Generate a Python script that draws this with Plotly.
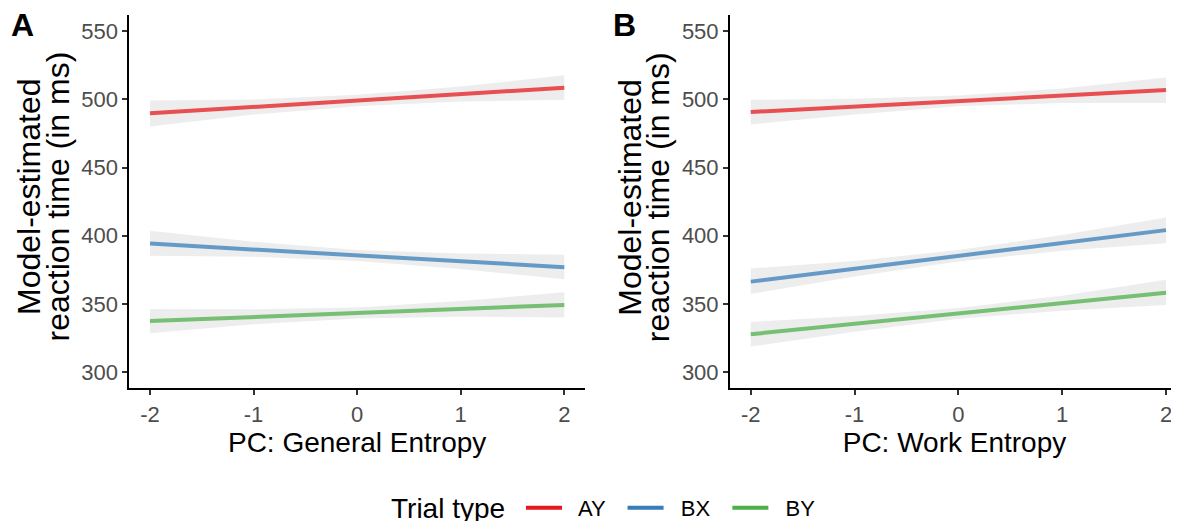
import plotly.graph_objects as go

# ---- data ----
x_vals = [-2, -1, 0, 1, 2]
trial_types = ["AY", "BX", "BY"]
colors = {"AY": "#E41A1C", "BX": "#377EB8", "BY": "#4DAF4A"}
line_colors = {"AY": "rgba(228,26,28,0.75)", "BX": "rgba(55,126,184,0.75)", "BY": "rgba(77,175,74,0.75)"}

# Panel A: PC General Entropy
A_AY_fit = [489.8, 494.5, 499.2, 503.9, 508.6]
A_AY_lo = [480.2, 489.0, 495.0, 498.5, 499.8]
A_AY_hi = [499.3, 500.0, 503.5, 509.5, 517.7]
A_BX_fit = [394.2, 389.9, 385.6, 381.2, 376.9]
A_BX_lo = [385.2, 384.5, 381.5, 375.5, 368.0]
A_BX_hi = [403.6, 395.5, 389.5, 387.0, 386.0]
A_BY_fit = [337.4, 340.4, 343.3, 346.3, 349.2]
A_BY_lo = [328.4, 335.0, 339.3, 340.5, 340.0]
A_BY_hi = [346.2, 346.0, 347.3, 352.0, 358.5]

# Panel B: PC Work Entropy
B_AY_fit = [490.8, 494.8, 498.9, 502.9, 506.9]
B_AY_lo = [481.7, 489.0, 495.0, 497.5, 497.4]
B_AY_hi = [499.8, 500.5, 503.0, 508.0, 516.2]
B_BX_fit = [366.3, 375.8, 385.2, 394.7, 404.1]
B_BX_lo = [357.3, 370.0, 381.0, 389.0, 394.5]
B_BX_hi = [375.9, 381.5, 389.5, 400.5, 413.3]
B_BY_fit = [327.7, 335.3, 343.0, 350.6, 358.2]
B_BY_lo = [318.6, 329.5, 339.0, 345.0, 349.2]
B_BY_hi = [336.7, 341.0, 347.0, 356.0, 367.6]

y_ticks = [300, 350, 400, 450, 500, 550]
x_ticks = [-2, -1, 0, 1, 2]

panels = {
    "A": {"AY": (A_AY_fit, A_AY_lo, A_AY_hi), "BX": (A_BX_fit, A_BX_lo, A_BX_hi), "BY": (A_BY_fit, A_BY_lo, A_BY_hi)},
    "B": {"AY": (B_AY_fit, B_AY_lo, B_AY_hi), "BX": (B_BX_fit, B_BX_lo, B_BX_hi), "BY": (B_BY_fit, B_BY_lo, B_BY_hi)},
}
axes = {"A": ("x", "y"), "B": ("x2", "y2")}

FONT = "Liberation Sans, Arial, sans-serif"
fig = go.Figure()

for p, data in panels.items():
    xa, ya = axes[p]
    for t in trial_types:
        fit, lo, hi = data[t]
        fig.add_trace(go.Scatter(
            x=x_vals + x_vals[::-1], y=lo + hi[::-1], fill="toself", mode="lines",
            fillcolor="rgba(215,215,215,0.45)", line=dict(width=0),
            hoverinfo="skip", showlegend=False, xaxis=xa, yaxis=ya))
    for t in trial_types:
        fit, lo, hi = data[t]
        fig.add_trace(go.Scatter(
            x=x_vals, y=fit, mode="lines", line=dict(color=line_colors[t], width=4),
            showlegend=False, xaxis=xa, yaxis=ya))

for t in trial_types:
    fig.add_trace(go.Scatter(x=[None], y=[None], mode="lines", name="  " + t + "  ",
                             line=dict(color=colors[t], width=4)))

# page is shown with the browser's default 8px body margin
OFF = 8
W, H = 1179 - OFF, 521 - OFF
def px_x(v):
    return (v - OFF) / W
def px_y(v):
    return 1 - (v - OFF) / H

ydom = [px_y(388.3), px_y(15)]
axis_common = dict(
    showgrid=False, zeroline=False, showline=True, linecolor="black", linewidth=2,
    ticks="outside", ticklen=5, tickwidth=1.5, tickcolor="#333333", automargin=False,
    tickfont=dict(family=FONT, size=22, color="#4d4d4d"),
)

annotations = [
    dict(text="<b>A</b>", x=px_x(22.5), y=px_y(25), xref="paper", yref="paper",
         showarrow=False, font=dict(size=32, color="black"), xanchor="center", yanchor="middle"),
    dict(text="<b>B</b>", x=px_x(624), y=px_y(25), xref="paper", yref="paper",
         showarrow=False, font=dict(size=32, color="black"), xanchor="center", yanchor="middle"),
    dict(text="Trial type", x=px_x(507), y=px_y(508), xref="paper", yref="paper",
         showarrow=False, font=dict(size=28, color="black"), xanchor="right", yanchor="middle"),
]
for off in (0, 600.7):
    for txt, cx in (("Model-estimated", 29.0), ("reaction time (in ms)", 57.5)):
        annotations.append(dict(text=txt, x=px_x(cx + off), y=px_y(197),
                                xref="paper", yref="paper", showarrow=False, textangle=-90,
                                font=dict(size=32, color="black"),
                                xanchor="center", yanchor="middle"))

fig.update_layout(
    width=W, height=H,
    margin=dict(l=0, r=0, t=0, b=0, autoexpand=False),
    plot_bgcolor="white", paper_bgcolor="white",
    font=dict(family=FONT, color="black"),
    xaxis=dict(domain=[px_x(129.3), px_x(585)], range=[-2.2, 2.2], tickvals=x_ticks,
               ticktext=[str(v) for v in x_ticks], anchor="y",
               title=dict(text="PC: General Entropy", font=dict(size=28, color="black"), standoff=4),
               **axis_common),
    yaxis=dict(domain=ydom, range=[288, 562], tickvals=y_ticks, anchor="x", **axis_common),
    xaxis2=dict(domain=[px_x(730), 1.0], range=[-2.2, 2.125], tickvals=x_ticks,
                ticktext=[str(v) for v in x_ticks], anchor="y2",
                title=dict(text="PC: Work Entropy", font=dict(size=28, color="black"), standoff=4),
                **axis_common),
    yaxis2=dict(domain=ydom, range=[288, 562], tickvals=y_ticks, anchor="x2", **axis_common),
    legend=dict(orientation="h", x=px_x(521), xanchor="left", y=px_y(508), yanchor="middle",
                font=dict(size=22, color="black"), itemwidth=36, traceorder="normal"),
    annotations=annotations,
)

fig.write_html("out.html")
